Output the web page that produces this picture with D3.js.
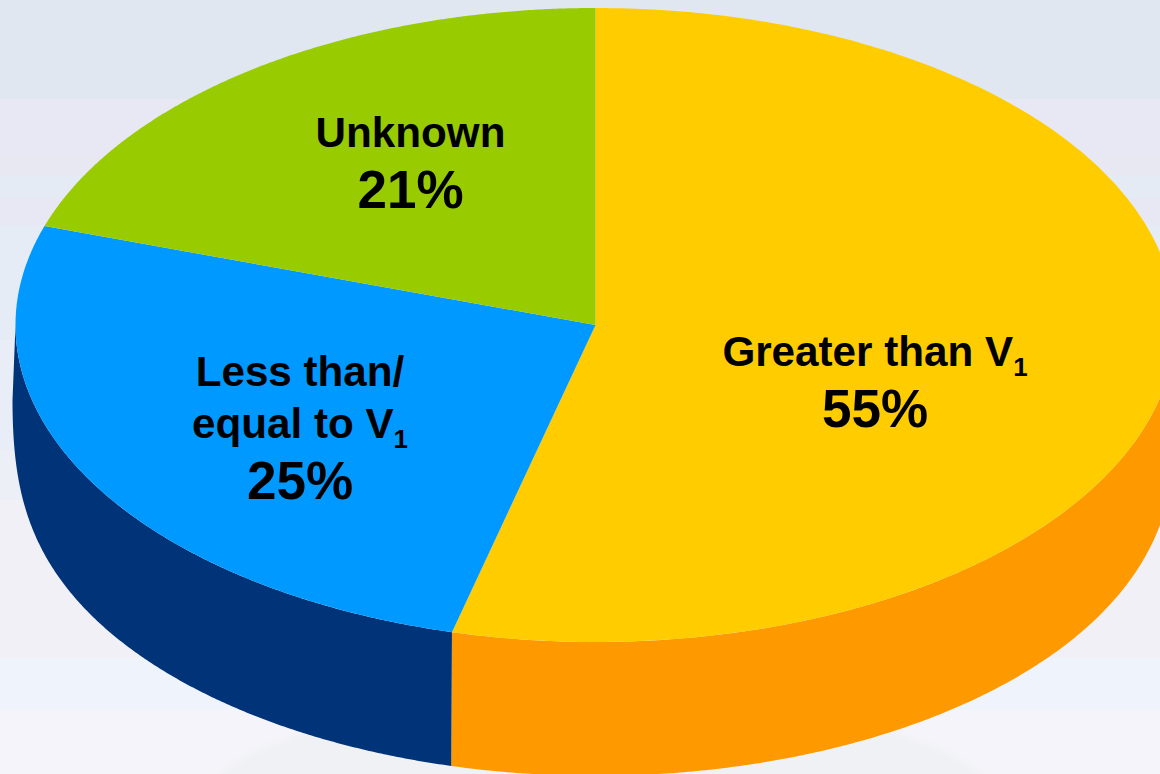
<!DOCTYPE html>
<html>
<head>
<meta charset="utf-8">
<script src="https://cdn.jsdelivr.net/npm/d3@7/dist/d3.min.js"></script>
<style>
html,body{margin:0;padding:0;background:#f5f4fa;overflow:hidden}
svg{display:block}
text{font-family:"Liberation Sans",Arial,sans-serif;font-weight:700;fill:#000}
</style>
</head>
<body>
<svg id="chart" width="1160" height="774"></svg>
<script>
// Data
const categories = ["Greater than V", "Less than/ equal to V", "Unknown"];
const labelPercents = [55, 25, 21];
// Share of the circle each slice actually occupies as drawn
const drawnShares = [53.98, 26.07, 19.95];
const topColors = ["#ffcc00", "#0099ff", "#99cc00"];
const sideColors = ["#ff9900", "#003377", "#99cc00"];
const labelLines = [
  [{t:"Greater than V", sub:"1"}],
  [{t:"Less than/"}, {t:"equal to V", sub:"1"}],
  [{t:"Unknown"}]
];

const W = 1160, H = 774;
const svg = d3.select("#chart");

// Background bands
const bandEdges = [0, 99, 156, 176, 198, 225, 340, 450, 500, 658, 710, 774];
const bandFills = ["#e0e7f1","#e8e8f4","#e8e8f2","#e5ebf4","#e8e8f4","#e6ecf6","#e9edf7","#edeff7","#f0f0f6","#eff4fc","#f5f4fa"];
svg.selectAll("rect.band").data(bandFills).join("rect")
  .attr("class","band").attr("x",0).attr("width",W)
  .attr("y",(d,i)=>bandEdges[i])
  .attr("height",(d,i)=>bandEdges[i+1]-bandEdges[i])
  .attr("fill",d=>d);

// Faint shadow shape at the bottom
const defs = svg.append("defs");
defs.append("filter").attr("id","soft").append("feGaussianBlur").attr("stdDeviation",4);
svg.append("ellipse").attr("cx",600).attr("cy",809).attr("rx",400).attr("ry",112)
  .attr("fill","#eff1f4").attr("filter","url(#soft)");

// Geometry of the tilted pie
const top_ = {cx:595.5, cy:325, rx:580, ry:317};
const bot  = {cx:595.5, rx:583, ry:317, cyEdge:400, drop:59, k:6};
const px = (e,a)=>e.cx + e.rx*Math.sin(a);
const topY = a=>top_.cy - top_.ry*Math.cos(a);
// The wall is shallower toward the left and right extremes of the pie
const botY = a=>{
  const s = Math.max(0,-Math.cos(a));
  return bot.cyEdge + bot.drop*(1-Math.exp(-s*bot.k)) + bot.ry*s;
};

const pie = d3.pie().sort(null).value(d=>d);
const arcs = pie(drawnShares);
const line = d3.line().x(d=>d[0]).y(d=>d[1]);
const angleSamples = (a0,a1)=>d3.range(0,241).map(i=>a0+(a1-a0)*i/240);

// Side wall: only the front half (from the right extreme to the left extreme)
const frontStart = Math.PI/2, frontEnd = 3*Math.PI/2;
arcs.forEach((d,i)=>{
  const a0 = Math.max(d.startAngle, frontStart);
  const a1 = Math.min(d.endAngle, frontEnd);
  if (a1 <= a0) return;
  const s = angleSamples(a0,a1);
  const upper = s.map(a=>[px(top_,a),topY(a)]);
  const lower = s.map(a=>[px(bot,a),botY(a)]).reverse();
  svg.append("path")
    .attr("d", line(upper.concat(lower)) + "Z")
    .attr("fill", sideColors[i]);
});

// Top face
arcs.forEach((d,i)=>{
  const s = angleSamples(d.startAngle,d.endAngle);
  const pts = [[top_.cx,top_.cy]].concat(s.map(a=>[px(top_,a),topY(a)]));
  svg.append("path").attr("d", line(pts)+"Z").attr("fill",topColors[i]);
});

// Labels
const labelLayout = [
  {x:875, lines:[366], pct:427},
  {x:300, lines:[386,438], pct:499},
  {x:410.5, lines:[147], pct:208}
];
const labelSize = 42.2, pctSize = 53, subSize = 26;
labelLayout.forEach((lay,i)=>{
  labelLines[i].forEach((ln,j)=>{
    const t = svg.append("text").attr("x",lay.x).attr("y",lay.lines[j])
      .attr("text-anchor","middle").attr("font-size",labelSize);
    t.append("tspan").text(ln.t);
    if (ln.sub) t.append("tspan").attr("font-size",subSize).attr("dy",10).text(ln.sub);
  });
  svg.append("text").attr("x",lay.x).attr("y",lay.pct)
    .attr("text-anchor","middle").attr("font-size",pctSize)
    .text(labelPercents[i]+"%");
});
</script>
</body>
</html>
